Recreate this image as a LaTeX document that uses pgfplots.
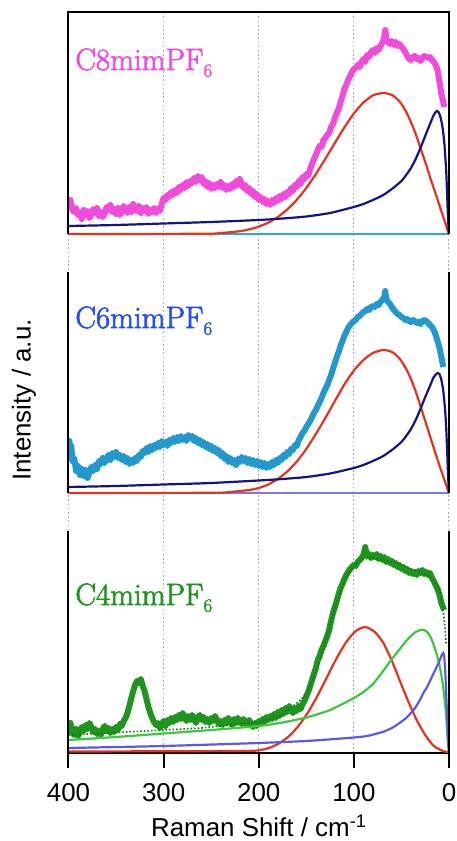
\documentclass[border=0pt]{standalone}
\usepackage{fontspec}
\newfontfamily\arial{Liberation Sans}
\newfontface\lmheavy{Latin Modern Roman}[FakeBold=2.2]
\usepackage{pgfplots}
\usepackage{pgfplotstable}
\pgfplotsset{compat=1.18}

\definecolor{pinkd}{HTML}{F24BDC}
\definecolor{csixblue}{HTML}{2450F0}
\definecolor{csixdata}{HTML}{2298CF}
\definecolor{cfourgreen}{HTML}{1E961E}
\definecolor{compgreen}{HTML}{3CC83C}
\definecolor{fitgreen}{HTML}{137A13}
\definecolor{redc}{HTML}{E3341F}
\definecolor{navyc}{HTML}{15157F}
\definecolor{bluec}{HTML}{5A5AE6}
\definecolor{cyanb}{HTML}{2AAAD2}
\definecolor{purpb}{HTML}{7A7AE6}
\definecolor{gridc}{HTML}{A4A4D6}

% C8mimPF6 measured spectrum (intensity above its own baseline)
\pgfplotstableread{
x y
400 29
398 34
396 24
394 22
392 26
390 19
388 21
386 15
384 24
382 20
380 23
378 16
376 19
374 25
372 21
370 26
368 18
366 22
364 17
362 20
360 27
358 24
356 29
354 22
352 25
350 20
348 26
346 19
344 23
342 28
340 24
338 21
336 27
334 22
332 30
330 25
328 23
326 28
324 21
322 26
320 23
318 27
316 20
314 24
312 22
310 26
308 21
306 25
304 23
302 30
300 36
298 34
296 39
294 37
292 42
290 39
288 44
286 41
284 47
282 44
280 49
278 46
276 52
274 48
272 53
270 51
268 56
266 52
264 58
262 54
260 57
258 50
256 53
254 47
252 51
250 45
248 49
246 46
244 50
242 47
240 52
238 46
236 49
234 44
232 48
230 45
228 50
226 47
224 53
222 49
220 55
218 50
216 46
214 49
212 43
210 46
208 40
206 43
204 37
202 40
200 34
198 37
196 32
194 35
192 30
190 33
188 29
186 34
184 31
182 36
180 33
178 38
176 35
174 40
172 37
170 42
168 40
166 46
164 43
162 49
160 47
158 53
156 50
154 57
152 55
150 60
148 58
146 65
144 70
142 75
140 79
138 84
136 88
134 87
132 94
130 96
128 99
126 101
124 107
122 110
120 116
118 121
116 125
114 132
112 138
110 145
108 149
106 154
104 158
102 162
100 165
98 166
96 169
94 167
92 172
90 175
88 172
86 179
84 177
82 182
80 184
78 181
76 186
74 184
72 188
70 191
68 197
67 204
66 196
64 192
62 190
60 193
58 189
56 192
54 188
52 190
50 187
48 185
46 182
44 178
42 175
40 174
38 177
36 178
34 175
32 176
30 173
28 176
26 178
24 177
22 176
20 177
18 174
16 172
14 169
12 164
10 152
8 140
6 132
5 127
}\pinkdata

% C6mimPF6 measured spectrum
\pgfplotstableread{
x y
400 42
399 52
398 38
397 47
396 32
394 35
392 22
390 27
388 18
386 24
384 17
382 23
380 15
378 20
376 26
374 22
372 28
370 24
368 32
366 29
364 35
362 30
360 34
358 38
356 33
354 40
352 36
350 41
348 35
346 38
344 33
342 37
340 31
338 35
336 29
334 33
332 30
330 35
328 32
326 38
324 36
322 42
320 40
318 45
316 41
314 47
312 43
310 48
308 45
306 50
304 46
302 52
300 48
298 51
296 47
294 53
292 50
290 55
288 51
286 56
284 52
282 57
280 53
278 56
276 52
274 58
272 55
270 57
268 52
266 55
264 50
262 53
260 48
258 51
256 46
254 49
252 44
250 47
248 42
246 45
244 40
242 43
240 37
238 40
236 34
234 37
232 31
230 35
228 30
226 33
224 28
222 34
220 31
218 36
216 32
214 35
212 30
210 34
208 29
206 33
204 28
202 32
200 27
198 31
196 26
194 30
192 25
190 29
188 26
186 31
184 28
182 33
180 30
178 35
176 33
174 38
172 36
170 41
168 39
166 44
164 43
162 48
160 47
158 53
156 56
154 60
152 62
150 66
148 69
146 72
144 76
142 80
140 83
138 87
136 91
134 95
132 100
130 104
128 108
126 113
124 118
122 124
120 130
118 136
116 141
114 147
112 152
110 157
108 161
106 165
104 168
102 170
100 172
98 173
96 176
94 177
92 179
90 181
88 182
86 184
84 183
82 186
80 187
78 186
76 189
74 188
72 191
70 193
68 196
67 202
66 194
64 191
62 189
60 186
58 183
56 181
54 179
52 178
50 176
48 175
46 173
44 174
42 172
40 171
38 173
36 172
34 170
32 171
30 169
28 172
26 173
24 172
22 170
20 168
18 166
16 163
14 158
12 152
10 145
8 136
6 126
}\cyandata

% C4mimPF6 measured spectrum
\pgfplotstableread{
x y
400 25
398 30
396 20
394 18
392 24
390 17
388 21
386 26
384 22
382 28
380 24
378 30
376 26
374 21
372 24
370 19
368 22
366 18
364 24
362 27
360 22
358 25
356 20
354 24
352 21
350 26
348 23
346 29
344 27
342 32
340 35
338 40
336 47
334 55
332 62
330 68
328 72
326 70
324 74
322 67
320 62
318 54
316 46
314 40
312 35
310 31
308 28
306 30
304 25
302 29
300 32
298 27
296 33
294 30
292 35
290 31
288 36
286 33
284 38
282 34
280 40
278 36
276 32
274 37
272 33
270 38
268 34
266 30
264 36
262 38
260 33
258 36
256 31
254 34
252 30
250 35
248 32
246 37
244 33
242 29
240 32
238 28
236 33
234 30
232 35
230 31
228 28
226 34
224 30
222 35
220 32
218 29
216 34
214 31
212 28
210 33
208 29
206 26
204 30
202 27
200 32
198 29
196 34
194 31
192 36
190 33
188 37
186 34
184 39
182 35
180 41
178 37
176 43
174 39
172 45
170 41
168 47
166 43
164 40
162 45
160 42
158 47
156 44
154 49
152 52
150 57
148 61
146 67
144 73
142 79
140 85
138 93
136 97
134 103
132 107
130 112
128 117
126 123
124 132
122 140
120 146
118 152
116 159
114 165
112 169
110 174
108 178
106 181
104 184
102 186
100 188
98 187
96 191
94 193
92 195
90 198
88 206
87 200
86 197
84 199
82 195
80 198
78 196
76 199
74 194
72 197
70 193
68 196
66 191
64 194
62 190
60 192
58 188
56 190
54 186
52 188
50 184
48 186
46 182
44 184
42 180
40 182
38 179
36 181
34 178
32 182
30 180
28 183
26 179
24 181
22 178
20 180
18 175
16 172
14 168
12 164
10 158
8 150
6 145
5 143
}\greendata

\begin{document}
\begin{tikzpicture}
\path[use as bounding box] (0,0) rectangle (457bp,841bp);
\begin{axis}[
    at={(68.5bp,88bp)}, anchor=south west,
    width=380.5bp, height=741bp, scale only axis,
    xmin=0, xmax=400, x dir=reverse,
    ymin=0, ymax=741,
    axis x line*=bottom, axis y line=none,
    xtick={0,100,200,300,400},
    ytick=\empty,
    xmajorgrids,
    grid style={gridc, line width=1bp, dash pattern=on 1.6bp off 2.6bp},
    tick align=outside, major tick length=15bp,
    x tick style={black, line width=2bp},
    x axis line style={black, line width=2bp},
    xticklabel style={font=\arial\fontsize{26}{26}\selectfont, anchor=base, yshift=-33bp},
    /pgf/number format/assume math mode=true,
    clip mode=individual,
  ]
  % ---- top panel: C8mimPF6, baseline 519
  \addplot[pinkd, line width=6bp, line join=round] table[x=x, y expr=\thisrow{y}+519] {\pinkdata};
  \addplot[cyanb, line width=2bp] coordinates {(400,519) (0,519)};
  \addplot[redc, line width=2.2bp, smooth, tension=0.4] coordinates {
    (400,519) (260,519.2) (240,519.9) (220,521.8) (210,523.6) (200,526.4) (190,530.4)
    (180,536) (170,543.6) (160,553.2) (150,565.1) (140,578.9) (130,594.2) (120,610.1)
    (110,625.6) (100,639.5) (90,650.4) (80,657.6) (70,660) (65,659.5) (60,658)
    (55,654.5) (50,649) (45,641) (40,631) (35,619) (30,605) (25,591) (20,576)
    (15,562) (10,547.5) (5,533) (0,519)};
  \addplot[navyc, line width=2.2bp, smooth, tension=0.4] coordinates {
    (400,527) (350,528) (300,529.5) (250,531) (200,533) (175,534.5) (150,536.5)
    (125,540) (100,546) (90,549) (80,553) (70,557.5) (60,564) (50,572) (45,578)
    (40,585) (35,594) (30,605) (25,617) (20,629) (16,638) (13,642) (11,641)
    (9,636) (7,627) (5,611) (3,583) (2,559) (1,534) (0,519)};
  \node[anchor=base west, inner sep=0, text=pinkd, font=\lmheavy\fontsize{31}{31}\selectfont]
    at (axis cs:393,683) {C8mimPF\raisebox{-0.22em}{\fontsize{19}{19}\selectfont 6}};

  % ---- middle panel: C6mimPF6, baseline 260
  \addplot[csixdata, line width=6bp, line join=round] table[x=x, y expr=\thisrow{y}+260] {\cyandata};
  \addplot[purpb, line width=2bp] coordinates {(400,260) (0,260)};
  \addplot[redc, line width=2.2bp, smooth, tension=0.4] coordinates {
    (400,260) (250,260.2) (230,261) (210,263) (200,265) (190,268.5)
    (180,274) (170,281.5) (160,291.5) (150,304) (140,319) (130,335) (120,352)
    (110,368.5) (100,382.5) (90,393) (80,400) (70,403) (65,402.5) (60,401)
    (55,397.5) (50,392) (45,384) (40,374) (35,361.5) (30,347) (25,332) (20,317)
    (15,302) (10,287.5) (5,273.5) (0,260)};
  \addplot[navyc, line width=2.2bp, smooth, tension=0.4] coordinates {
    (400,266) (350,267) (300,268.5) (250,270) (200,272.5) (175,274) (150,276)
    (125,279.5) (100,285) (90,288) (80,292) (70,296.5) (60,303) (50,311) (45,317)
    (40,324) (35,333) (30,344) (25,356) (20,367) (16,376) (12,380) (10,379)
    (8,373) (6,362) (4,342) (3,326) (2,304) (1,278) (0,260)};
  \node[anchor=base west, inner sep=0, text=csixblue, font=\lmheavy\fontsize{31}{31}\selectfont]
    at (axis cs:393,425) {C6mimPF\raisebox{-0.22em}{\fontsize{19}{19}\selectfont 6}};

  % ---- bottom panel: C4mimPF6, baseline 0
  \addplot[cfourgreen, line width=6bp, line join=round] table[x=x, y=y] {\greendata};
  \addplot[fitgreen, line width=1.6bp, dotted] coordinates {
    (400,18) (340,21) (300,23) (260,25) (230,28) (200,31) (180,36) (165,46)
    (150,58) (140,80) (130,110) (120,145) (110,172) (100,187) (90,194) (80,195)
    (60,191) (40,184) (20,177) (10,164) (6,142) (4,124) (3,108)};
  \addplot[redc, line width=2.2bp, smooth, tension=0.4] coordinates {
    (400,1.5) (220,2) (198,3) (188,5.5) (178,10) (168,17) (158,27.3) (148,40.9)
    (138,57.7) (128,76.4) (118,95) (108,111) (98,122) (88,126) (78,121) (69,110)
    (60,92) (52,73) (43,52) (34,33) (25,18) (17,8) (10,3.5) (5,1.5) (0,1)};
  \addplot[compgreen, line width=2.2bp, smooth, tension=0.4] coordinates {
    (400,13) (350,16) (300,19.5) (250,23) (200,27) (175,30.5) (150,35.5) (125,43)
    (100,55) (90,61) (80,69) (70,81) (60,94) (50,106) (45,112) (40,117) (35,121)
    (30,123) (26,123) (22,120) (18,113) (14,102) (10,88) (7,72) (5,57) (3,37)
    (2,22) (1,8) (0,1)};
  \addplot[bluec, line width=2.2bp, smooth, tension=0.4] coordinates {
    (400,5) (300,7) (200,10) (150,12) (120,14) (100,15.5) (86,17) (70,21) (60,25)
    (52,30) (45,35) (40,40) (35,46) (30,54) (27,60) (23,66) (20,72) (16,80) (13,86)
    (10,92) (8,97) (6,100) (5,96) (4,82) (3,60) (2,38) (1,16) (0,1)};
  \node[anchor=base west, inner sep=0, text=cfourgreen, font=\lmheavy\fontsize{31}{31}\selectfont]
    at (axis cs:393,148) {C4mimPF\raisebox{-0.22em}{\fontsize{19}{19}\selectfont 6}};

  % panel frames
  \draw[black, line width=2bp] (axis cs:400,519) |- (axis cs:0,741) -- (axis cs:0,519);
  \draw[black, line width=2bp] (axis cs:400,260) -- (axis cs:400,481);
  \draw[black, line width=2bp] (axis cs:0,260) -- (axis cs:0,481);
  \draw[black, line width=2bp] (axis cs:400,0) -- (axis cs:400,222);
  \draw[black, line width=2bp] (axis cs:0,0) -- (axis cs:0,222);
\end{axis}
\node[rotate=90, font=\arial\fontsize{26}{26}\selectfont] at (24bp,441bp) {Intensity / a.u.};
\node[anchor=base, font=\arial\fontsize{26}{26}\selectfont] at (258.75bp,5bp) {Raman Shift / cm\textsuperscript{-1}};
\end{tikzpicture}
\end{document}
